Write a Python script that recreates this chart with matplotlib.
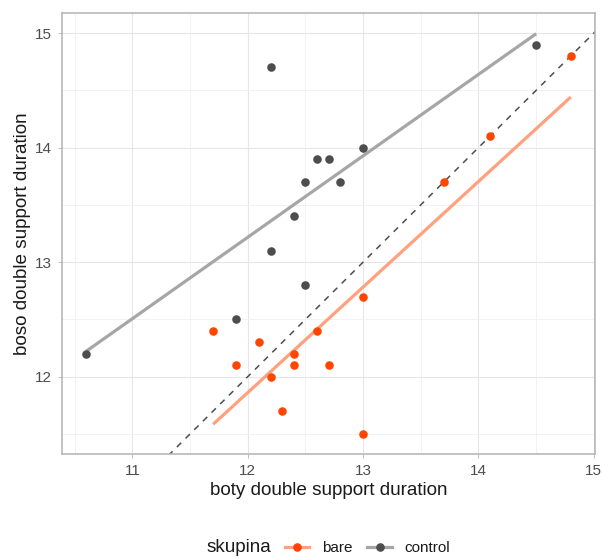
import matplotlib.pyplot as plt
import numpy as np
from matplotlib.lines import Line2D
from matplotlib.ticker import MultipleLocator

plt.rcParams["font.family"] = ["Liberation Sans", "DejaVu Sans"]

# double support duration, barefoot vs shod (per subject)
bare_boty = [11.7, 11.9, 12.1, 12.2, 12.3, 12.4, 12.4, 12.6, 12.7, 13.0, 13.0, 13.7, 14.1, 14.8]
bare_boso = [12.4, 12.1, 12.3, 12.0, 11.7, 12.2, 12.1, 12.4, 12.1, 12.7, 11.5, 13.7, 14.1, 14.8]

control_boty = [10.6, 11.9, 12.2, 12.2, 12.4, 12.5, 12.5, 12.6, 12.7, 12.8, 13.0, 14.5]
control_boso = [12.2, 12.5, 13.1, 14.7, 13.4, 12.8, 13.7, 13.9, 13.9, 13.7, 14.0, 14.9]

groups = ["bare", "control"]
point_colors = {"bare": "#FF4500", "control": "#4D4D4D"}
line_colors = {"bare": "#FFA07F", "control": "#A6A6A6"}

fig = plt.figure(figsize=(6.03, 5.58), dpi=100)
ax = fig.add_axes([62 / 603, 1 - 454 / 558, 533 / 603, 441 / 558])

# identity line
lim = np.array([10.0, 15.5])
ax.plot(lim, lim, ls=(0, (4, 4)), color="#4D4D4D", lw=1.1, zorder=2)

for g, xs, ys in [("bare", bare_boty, bare_boso), ("control", control_boty, control_boso)]:
    xs = np.asarray(xs)
    ys = np.asarray(ys)
    slope, icpt = np.polyfit(xs, ys, 1)
    xl = np.array([xs.min(), xs.max()])
    ax.plot(xl, slope * xl + icpt, color=line_colors[g], lw=2.3, zorder=3,
            solid_capstyle="butt")
    ax.scatter(xs, ys, s=38, color=point_colors[g], zorder=4, linewidths=0)

ax.set_xlim(10.39, 15.01)
ax.set_ylim(11.325, 15.175)
ax.xaxis.set_major_locator(MultipleLocator(1))
ax.yaxis.set_major_locator(MultipleLocator(1))
ax.xaxis.set_minor_locator(MultipleLocator(0.5))
ax.yaxis.set_minor_locator(MultipleLocator(0.5))
ax.grid(which="major", color="#E6E6E6", lw=0.8, zorder=0)
ax.grid(which="minor", color="#F0F0F0", lw=0.6, zorder=0)
ax.set_axisbelow(True)
for sp in ax.spines.values():
    sp.set_color("#B3B3B3")
    sp.set_linewidth(1.1)
ax.tick_params(which="major", length=3, width=0.6, color="#B3B3B3",
               labelsize=11, labelcolor="#4D4D4D", pad=4)
ax.tick_params(which="minor", length=0)

ax.set_xlabel("boty double support duration", fontsize=13.6, color="#1A1A1A", labelpad=3)
ax.set_ylabel("boso double support duration", fontsize=13.6, color="#1A1A1A", labelpad=3)

fig.text(207 / 603, 1 - 548 / 558, "skupina", fontsize=13.6, color="#1A1A1A",
         ha="left", va="center")
handles = [Line2D([], [], color=line_colors[g], lw=2.3, marker="o", markersize=6.2,
                  markerfacecolor=point_colors[g], markeredgewidth=0) for g in groups]
fig.legend(handles, groups, loc="center left", bbox_to_anchor=(285 / 603, 1 - 548 / 558),
           ncol=2, frameon=False, fontsize=11, handlelength=1.6, handletextpad=0.8,
           columnspacing=1.0, borderpad=0, borderaxespad=0, labelcolor="#1A1A1A")

fig.savefig("out.png", dpi=100)
